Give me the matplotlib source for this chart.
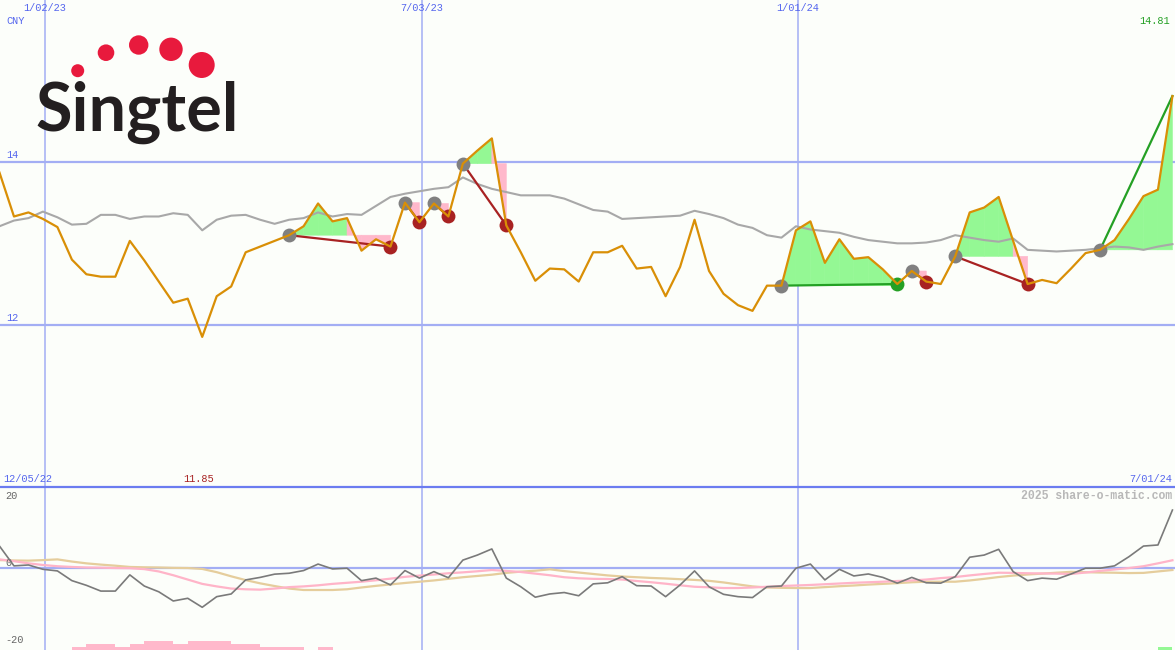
import numpy as np
import pandas as pd
import matplotlib
matplotlib.use("Agg")
import matplotlib.pyplot as plt
import matplotlib.transforms as mtrans
from matplotlib.patches import Ellipse
from matplotlib.lines import Line2D

# ---------------- data ----------------
start_date = "2022-12-11"
n_weeks = 82
price = [13.87, 13.33, 13.38, 13.30, 13.20, 12.80, 12.62, 12.59, 12.59, 13.03,
         12.79, 12.53, 12.27, 12.32, 11.85, 12.35, 12.47, 12.89, 12.96, 13.03,
         13.10, 13.21, 13.49, 13.27, 13.31, 12.91, 13.05, 12.96, 13.50, 13.26,
         13.49, 13.33, 13.98, 14.14, 14.29, 13.22, 12.89, 12.54, 12.69, 12.68,
         12.53, 12.89, 12.89, 12.97, 12.69, 12.71, 12.35, 12.71, 13.29, 12.66,
         12.38, 12.24, 12.17, 12.48, 12.48, 13.16, 13.27, 12.76, 13.05, 12.81,
         12.83, 12.68, 12.50, 12.66, 12.53, 12.50, 12.84, 13.38, 13.44, 13.57,
         13.03, 12.50, 12.55, 12.51, 12.69, 12.88, 12.92, 13.04, 13.30, 13.58,
         13.66, 14.81]
moving_avg = [13.21, 13.28, 13.31, 13.39, 13.32, 13.23, 13.24, 13.35, 13.35, 13.30,
              13.33, 13.33, 13.37, 13.35, 13.16, 13.29, 13.34, 13.35, 13.29, 13.24,
              13.29, 13.31, 13.38, 13.33, 13.36, 13.35, 13.46, 13.57, 13.61, 13.64,
              13.67, 13.69, 13.81, 13.73, 13.67, 13.63, 13.59, 13.59, 13.59, 13.55,
              13.48, 13.41, 13.39, 13.30, 13.31, 13.32, 13.33, 13.34, 13.40, 13.36,
              13.31, 13.23, 13.19, 13.10, 13.07, 13.21, 13.17, 13.15, 13.13, 13.08,
              13.04, 13.02, 13.00, 13.00, 13.01, 13.04, 13.10, 13.07, 13.04, 13.02,
              13.06, 12.92, 12.91, 12.90, 12.91, 12.92, 12.94, 12.96, 12.95, 12.92,
              12.96, 12.99]
momentum = [6.0, 0.5, 0.75, -0.45, -0.9, -3.6, -4.9, -6.5, -6.5, -2.0,
            -5.1, -6.7, -9.25, -8.5, -11.0, -8.05, -7.3, -3.4, -2.7, -1.8,
            -1.55, -0.8, 1.0, -0.35, -0.15, -3.6, -2.9, -4.8, -0.8, -2.9,
            -1.1, -2.8, 2.1, 3.5, 5.2, -2.9, -5.3, -8.2, -7.3, -6.9,
            -7.8, -4.5, -4.2, -2.5, -5.0, -5.1, -8.05, -4.8, -0.9, -5.3,
            -7.4, -8.05, -8.3, -5.3, -5.1, -0.15, 1.0, -3.4, -0.45, -2.3,
            -1.75, -2.7, -4.3, -2.7, -4.2, -4.3, -2.5, 2.9, 3.5, 5.1,
            -1.1, -3.6, -2.9, -3.2, -1.75, -0.15, -0.15, 0.5, 3.05, 6.0,
            6.3, 16.0]
signal_fast = [2.3, 1.8, 1.2, 0.75, 0.4, 0.2, 0.05, 0.0, -0.1, -0.15,
               -0.4, -1.05, -2.1, -3.3, -4.5, -5.2, -5.8, -6.0, -6.1, -5.8,
               -5.4, -5.2, -4.9, -4.5, -4.2, -3.9, -3.5, -3.05, -2.55, -2.2,
               -1.9, -1.55, -1.3, -1.0, -0.65, -0.9, -1.2, -1.65, -2.1, -2.65,
               -2.95, -3.1, -3.15, -3.3, -3.7, -4.05, -4.45, -4.9, -5.3, -5.45,
               -5.65, -5.65, -5.5, -5.3, -5.1, -4.95, -4.8, -4.6, -4.4, -4.2,
               -4.05, -3.9, -3.7, -3.55, -3.3, -2.9, -2.6, -2.15, -1.75, -1.4,
               -1.45, -1.55, -1.6, -1.65, -1.75, -1.35, -0.9, -0.5, -0.1, 0.4,
               1.2, 2.05]
signal_slow = [2.1, 2.0, 1.95, 2.1, 2.3, 1.7, 1.2, 0.85, 0.55, 0.2,
               0.1, 0.05, -0.05, -0.1, -0.35, -1.25, -2.4, -3.45, -4.35, -5.1,
               -5.8, -6.2, -6.2, -6.2, -6.0, -5.5, -5.05, -4.65, -4.25, -3.9,
               -3.55, -3.1, -2.65, -2.3, -1.95, -1.45, -1.1, -0.85, -0.45, -0.95,
               -1.35, -1.75, -2.15, -2.45, -2.65, -2.85, -3.0, -3.2, -3.4, -3.65,
               -4.1, -4.65, -5.2, -5.5, -5.6, -5.65, -5.65, -5.4, -5.15, -4.95,
               -4.7, -4.5, -4.3, -4.05, -3.9, -3.9, -3.9, -3.55, -3.1, -2.6,
               -2.2, -1.9, -1.65, -1.4, -1.15, -1.25, -1.35, -1.4, -1.5, -1.45,
               -1.05, -0.65]
bars_neg = [0, 0, 0, 0, 0, 0.75, 1.75, 1.75, 0.75, 1.75,
            2.5, 2.5, 1.75, 2.5, 2.5, 2.5, 1.75, 1.75, 0.75, 0.75,
            0.75, 0, 0.75] + [0] * 59
bars_pos = [0] * 80 + [0.75, 0]
# trades: (entry week index, exit week index)
trades = [(20, 27), (28, 29), (30, 31), (32, 35), (54, 62), (63, 64), (66, 71), (76, 81)]
open_trade_exit = 81
grid_dates = ["2023-01-02", "2023-07-03", "2024-01-01"]
grid_labels = ["1/02/23", "7/03/23", "1/01/24"]
price_levels = [12, 14]
osc_levels = [20, 0, -20]
range_labels = ["12/05/22", "7/01/24"]
currency = "CNY"
watermark = "2025 share-o-matic.com"

# ---------------- style ----------------
BG = "#fcfefa"
GRID = "#a3aef4"
BLUE_TXT = "#5566ee"
ORANGE = "#d98f06"
GREYLINE = "#a8a8a8"
GREEN_FILL = "#94f894"
PINK_FILL = "#ffb8cb"
RED = "#a82222"
GREEN = "#24a024"

W, H = 1175, 650
split = 487
fig = plt.figure(figsize=(W / 100, H / 100), dpi=100, facecolor=BG)
ax = fig.add_axes([0, (H - split) / H, 1, split / H])
ax2 = fig.add_axes([0, 0, 1, (H - split) / H])
for a in (ax, ax2):
    a.set_facecolor(BG)
    for s in a.spines.values():
        s.set_visible(False)
    a.set_xticks([])
    a.set_yticks([])

dates = pd.date_range(start_date, periods=n_weeks, freq="7D")
price = np.array(price)
gd = pd.to_datetime(grid_dates)
px_per_day = 753 / 364.0
xl = (gd[0] - pd.Timedelta(days=45 / px_per_day), gd[2] + pd.Timedelta(days=(W - 798) / px_per_day))
ax.set_xlim(*xl)
ax2.set_xlim(*xl)
ax.set_ylim(10.005, 15.991)
ax2.set_ylim(-22.86, 22.4)

# grid
for d in gd:
    ax.axvline(d, color=GRID, lw=1.1, zorder=1)
    ax2.axvline(d, color=GRID, lw=1.1, zorder=1)
for lv in price_levels:
    ax.axhline(lv, color=GRID, lw=1.6, zorder=1)
ax2.axhline(0, color=GRID, lw=1.6, zorder=1)

# trade fills
for a_i, b_i in trades:
    E = price[a_i]
    for j in range(a_i, b_i):
        col = GREEN_FILL if price[j + 1] > E else PINK_FILL
        xs = [dates[j], dates[j], dates[j + 1], dates[j + 1]]
        ys = [E, price[j], price[j + 1], E]
        ax.fill(xs, ys, facecolor=col, edgecolor=col, lw=0.4, zorder=2)

ax.plot(dates, moving_avg, color=GREYLINE, lw=1.5, zorder=3)

for a_i, b_i in trades:
    win = price[b_i] > price[a_i]
    ax.plot([dates[a_i], dates[b_i]], [price[a_i], price[b_i]],
            color=GREEN if win else RED, lw=1.6, zorder=4)
    ax.plot(dates[a_i], price[a_i], "o", color="#808080", ms=10, mew=0, zorder=5)
    if b_i != open_trade_exit:
        ax.plot(dates[b_i], price[b_i], "o", color=GREEN if win else RED, ms=10, mew=0, zorder=5)

ax.plot(dates, price, color=ORANGE, lw=1.6, zorder=6)

# lower panel
ax2.bar(dates, bars_neg, width=7, align="edge", bottom=ax2.get_ylim()[0], color=PINK_FILL, lw=0, zorder=2)
ax2.bar(dates, bars_pos, width=7, align="edge", bottom=ax2.get_ylim()[0], color=GREEN_FILL, lw=0, zorder=2)
ax2.plot(dates, signal_slow, color="#e5cd9c", lw=1.6, zorder=3)
ax2.plot(dates, signal_fast, color="#ffb4c8", lw=1.6, zorder=3)
ax2.plot(dates, momentum, color="#7a7a7a", lw=1.2, zorder=4)

fig.add_artist(Line2D([0, 1], [(H - split) / H] * 2, color="#6b7cf0", lw=1.6))

# texts
mono = "Liberation Mono"
fs = 7.4
bx = mtrans.blended_transform_factory(ax.transData, ax.transAxes)
by = mtrans.blended_transform_factory(ax.transAxes, ax.transData)
for d, lab in zip(gd, grid_labels):
    ax.text(d, 1 - 8 / split, lab, transform=bx, ha="center", va="center",
            color=BLUE_TXT, fontsize=fs, family=mono)
ax.text(6 / W, 1 - 21 / split, currency, transform=ax.transAxes, ha="left", va="center",
        color=BLUE_TXT, fontsize=fs, family=mono)
for lv in price_levels:
    ax.text(6 / W, lv + 0.025, f"{lv}", transform=by, ha="left", va="bottom",
            color=BLUE_TXT, fontsize=fs, family=mono)
ax.text(1 - 5 / W, 1 - 21 / split, f"{price[-1]:.2f}", transform=ax.transAxes,
        ha="right", va="center", color=GREEN, fontsize=fs, family=mono)
ax.text(3 / W, 8 / split, range_labels[0], transform=ax.transAxes, ha="left", va="center",
        color=BLUE_TXT, fontsize=fs, family=mono)
ax.text(1 - 3 / W, 8 / split, range_labels[1], transform=ax.transAxes, ha="right", va="center",
        color=BLUE_TXT, fontsize=fs, family=mono)
imin = int(np.argmin(price))
ax.text(dates[imin] - pd.Timedelta(days=2), 8 / split, f"{price[imin]:.2f}", transform=bx,
        ha="center", va="center", color=RED, fontsize=fs, family=mono)
ax2.text(1 - 3 / W, (H - 496) / (H - split), watermark, transform=ax2.transAxes,
         ha="right", va="center", color="#b8b8b8", fontsize=8.3, family=mono, weight="bold")
by2 = mtrans.blended_transform_factory(ax2.transAxes, ax2.transData)
for lv in osc_levels:
    ax2.text(5 / W, lv, f"{lv}", transform=by2, ha="left",
             va="bottom" if lv == 0 else "center", color="#666666", fontsize=fs, family=mono)

# logo
fig.text(35 / W, 1 - 131 / H, "Singtel", ha="left", va="baseline", fontsize=48,
         family="Lato", weight="bold", color="#231f20")
for cx, cy, r in [(77.7, 70.7, 6.5), (106, 52.7, 8.3), (138.7, 45, 9.7), (171, 49.3, 11.7), (201.7, 65, 13)]:
    fig.add_artist(Ellipse((cx / W, 1 - cy / H), 2 * r / W, 2 * r / H, color="#e81a3d", lw=0))

fig.savefig("out.png", dpi=100, facecolor=BG)
